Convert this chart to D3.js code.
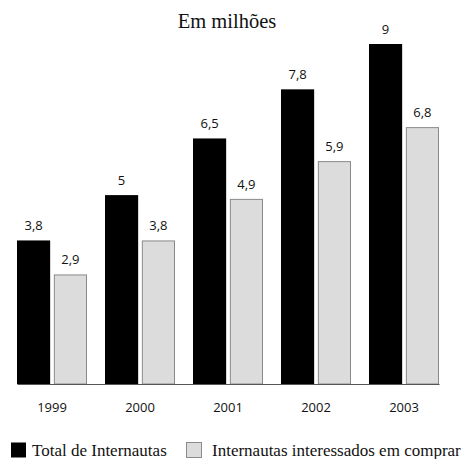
<!DOCTYPE html>
<html>
<head>
<meta charset="utf-8">
<script src="https://cdn.jsdelivr.net/npm/d3@7"></script>
<style>
  html, body { margin: 0; padding: 0; background: #fff; }
  svg { display: block; }
</style>
</head>
<body>
<svg id="chart" width="462" height="459"></svg>
<script>
// Internet users in Brazil, in millions
const years = ["1999", "2000", "2001", "2002", "2003"];
const seriesNames = ["Total de Internautas", "Internautas interessados em comprar"];
const totalUsers = [3.8, 5, 6.5, 7.8, 9];
const buyers = [2.9, 3.8, 4.9, 5.9, 6.8];
const titleText = "Em milhões";

const fills = ["#000000", "#dcdcdc"];
const strokes = ["#000000", "#8a8a8a"];

const svg = d3.select("#chart");
const baseY = 384;

const x0 = d3.scaleBand().domain(years).range([17, 439]).paddingInner(0.2045).paddingOuter(0);
const x1 = d3.scaleBand().domain([0, 1]).range([0, x0.bandwidth()]).paddingInner(0.1);
const y = d3.scaleLinear().domain([0, 9]).range([baseY, 44]);

const fmt = v => String(v).replace(".", ",");

const rows = years.map((yr, i) => ({ year: yr, values: [totalUsers[i], buyers[i]] }));

// Title
svg.append("text")
  .attr("x", 227).attr("y", 28)
  .attr("text-anchor", "middle")
  .attr("font-family", "'Liberation Serif', 'Times New Roman', serif")
  .attr("font-size", 20.5)
  .attr("fill", "#111")
  .text(titleText);

const groups = svg.selectAll("g.year").data(rows).join("g")
  .attr("class", "year")
  .attr("transform", d => `translate(${x0(d.year)},0)`);

groups.selectAll("rect").data(d => d.values.map((v, k) => ({ v, k }))).join("rect")
  .attr("x", d => x1(d.k) + (d.k === 1 ? 0.5 : 0))
  .attr("y", d => y(d.v) + (d.k === 1 ? 0.5 : 0))
  .attr("width", d => x1.bandwidth() - (d.k === 1 ? 1 : 0))
  .attr("height", d => baseY - y(d.v) - (d.k === 1 ? 0.5 : 0))
  .attr("fill", d => fills[d.k])
  .attr("stroke", d => d.k === 1 ? strokes[1] : "none")
  .attr("stroke-width", 1);

groups.selectAll("text.val").data(d => d.values.map((v, k) => ({ v, k }))).join("text")
  .attr("class", "val")
  .attr("x", d => x1(d.k) + x1.bandwidth() / 2)
  .attr("y", d => y(d.v) - 10)
  .attr("text-anchor", "middle")
  .attr("font-family", "'Open Sans', 'Noto Sans', sans-serif")
  .attr("font-size", 13)
  .attr("fill", "#111")
  .text(d => fmt(d.v));

// Baseline axis
const xAxis = d3.axisBottom(x0).tickSize(0).tickPadding(19);
const axisG = svg.append("g").attr("transform", `translate(0,${baseY})`).call(xAxis);
axisG.select(".domain").attr("stroke", "#555").attr("stroke-width", 1.2);
axisG.selectAll(".tick text")
  .attr("font-family", "'Open Sans', 'Noto Sans', sans-serif")
  .attr("font-size", 13)
  .attr("fill", "#111");

// Legend
const legend = svg.append("g").attr("class", "legend");
const legendItems = [
  { name: seriesNames[0], x: 11, k: 0 },
  { name: seriesNames[1], x: 186, k: 1 }
];
legendItems.forEach(it => {
  legend.append("rect")
    .attr("x", it.x + (it.k ? 0.5 : 0)).attr("y", 442.5)
    .attr("width", 15).attr("height", 15)
    .attr("fill", fills[it.k])
    .attr("stroke", it.k ? strokes[1] : "none");
  legend.append("text")
    .attr("x", it.x + (it.k ? 26 : 21)).attr("y", 455.5)
    .attr("font-family", "'Liberation Serif', 'Times New Roman', serif")
    .attr("font-size", 17)
    .attr("fill", "#111")
    .text(it.name);
});
</script>
</body>
</html>
